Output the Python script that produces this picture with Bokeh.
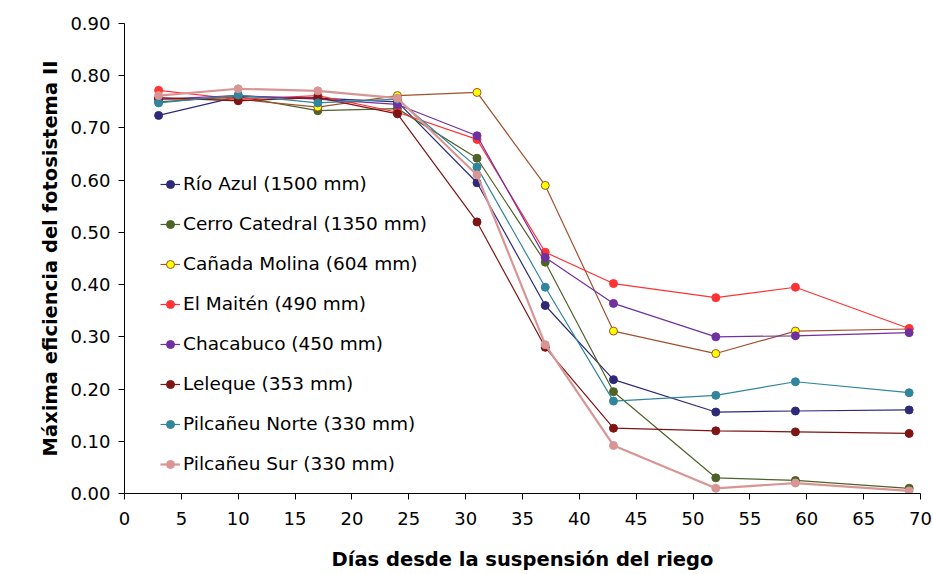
from bokeh.plotting import figure
from bokeh.embed import file_html
from bokeh.resources import INLINE
from bokeh.models import FixedTicker, NumeralTickFormatter, Range1d, Legend, LegendItem

days = [3, 10, 17, 24, 31, 37, 43, 52, 59, 69]

rio_azul = [0.724, 0.760, 0.757, 0.750, 0.595, 0.360, 0.218, 0.156, 0.158, 0.160]
cerro_catedral = [0.750, 0.760, 0.733, 0.737, 0.642, 0.443, 0.195, 0.030, 0.025, 0.010]
canada_molina = [0.755, 0.755, 0.740, 0.762, 0.768, 0.590, 0.311, 0.268, 0.311, 0.315]
el_maiten = [0.772, 0.755, 0.762, 0.730, 0.678, 0.462, 0.402, 0.375, 0.395, 0.316]
chacabuco = [0.755, 0.762, 0.755, 0.745, 0.685, 0.452, 0.364, 0.300, 0.302, 0.308]
leleque = [0.758, 0.752, 0.758, 0.727, 0.520, 0.280, 0.125, 0.120, 0.118, 0.115]
pilcaneu_norte = [0.748, 0.763, 0.748, 0.755, 0.625, 0.395, 0.177, 0.188, 0.214, 0.193]
pilcaneu_sur = [0.762, 0.775, 0.771, 0.757, 0.610, 0.285, 0.092, 0.010, 0.020, 0.005]

names = ["Río Azul (1500 mm)", "Cerro Catedral (1350 mm)", "Cañada Molina (604 mm)",
         "El Maitén (490 mm)", "Chacabuco (450 mm)", "Leleque (353 mm)",
         "Pilcañeu Norte (330 mm)", "Pilcañeu Sur (330 mm)"]
series = [rio_azul, cerro_catedral, canada_molina, el_maiten, chacabuco, leleque,
          pilcaneu_norte, pilcaneu_sur]
line_colors = ["#2e2a78", "#4f6228", "#a0522d", "#ff3333", "#7030a0", "#7f1414", "#31859c", "#d99594"]
fill_colors = ["#2e2a78", "#4f6228", "#ffff00", "#ff3333", "#7030a0", "#7f1414", "#31859c", "#d99594"]
line_widths = [1.2, 1.2, 1.2, 1.2, 1.2, 1.2, 1.2, 2.2]

x_ticks = list(range(0, 75, 5))
y_ticks = [0.0, 0.1, 0.2, 0.3, 0.4, 0.5, 0.6, 0.7, 0.8, 0.9]

FONT = "DejaVu Sans"

p = figure(width=933, height=574, output_backend="svg", toolbar_location=None,
           x_range=Range1d(0, 70), y_range=Range1d(0, 0.9),
           min_border_left=124, min_border_right=13, min_border_top=23, min_border_bottom=81)
p.outline_line_color = None
p.xgrid.visible = False
p.ygrid.visible = False
p.background_fill_color = "white"

items = []
for name, ys, lc, fc, lw in zip(names, series, line_colors, fill_colors, line_widths):
    r1 = p.line(days, ys, line_color=lc, line_width=lw)
    r2 = p.scatter(days, ys, size=8, fill_color=fc, line_color=lc, line_width=1)
    items.append(LegendItem(label=name, renderers=[r1, r2]))

legend = Legend(items=items, location=(36, 19), glyph_width=20, glyph_height=20,
                label_height=20, spacing=19, label_standoff=3, padding=0, margin=0,
                border_line_color=None, background_fill_alpha=0,
                label_text_font=FONT, label_text_font_size="18.5px", label_text_color="black")
p.add_layout(legend, "center")

for ax in (p.xaxis[0], p.yaxis[0]):
    ax.axis_line_color = "black"
    ax.major_tick_line_color = "black"
    ax.minor_tick_line_color = None
    ax.major_tick_in = 0
    ax.major_tick_out = 6
    ax.major_label_text_font = FONT
    ax.major_label_text_font_size = "18px"
    ax.major_label_text_color = "black"
    ax.axis_label_text_font = FONT
    ax.axis_label_text_font_size = "19.5px"
    ax.axis_label_text_font_style = "bold"
    ax.axis_label_text_color = "black"

p.xaxis.ticker = FixedTicker(ticks=x_ticks)
p.yaxis.ticker = FixedTicker(ticks=y_ticks)
p.yaxis.formatter = NumeralTickFormatter(format="0.00")
p.xaxis.axis_label = "Días desde la suspensión del riego"
p.yaxis.axis_label = "Máxima eficiencia del fotosistema II"
p.xaxis.major_label_standoff = 12
p.yaxis.major_label_standoff = 8
p.xaxis.axis_label_standoff = 20
p.yaxis.axis_label_standoff = 5

open("out.html", "w").write(file_html(p, INLINE))
